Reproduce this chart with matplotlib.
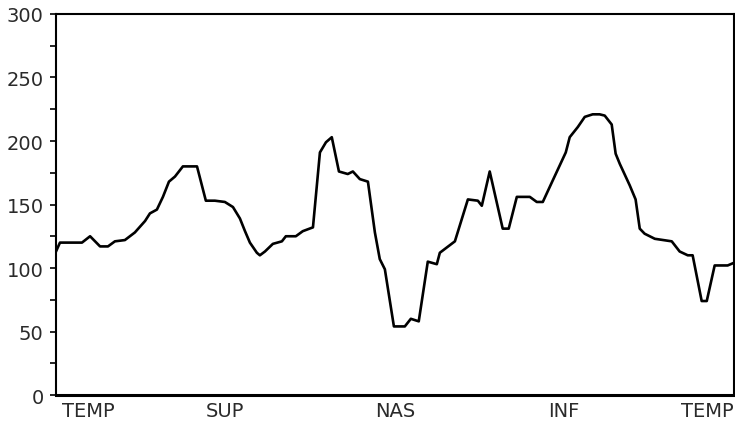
import matplotlib
matplotlib.use("Agg")
import matplotlib.pyplot as plt
from matplotlib.ticker import MultipleLocator

# scan position (degrees around the disc) and thickness values
angle = [0, 2.1, 13.8, 18.1, 23.4, 27.6, 31.3, 36.6, 41.9, 47.3, 49.9, 53.6, 56.8,
         60.0, 63.2, 67.4, 74.9, 79.6, 84.4, 89.7, 94.0, 97.7, 100.4, 103.0, 106.7,
         108.3, 111.0, 115.2, 120.0, 122.1, 127.4, 131.1, 136.5, 140.2, 143.4, 146.5,
         150.3, 155.0, 157.7, 161.4, 165.7, 169.4, 172.0, 174.7, 179.5, 185.3, 188.5,
         192.7, 197.5, 202.3, 203.9, 211.9, 218.8, 224.1, 226.2, 230.4, 237.3, 240.5,
         244.8, 251.7, 255.4, 258.6, 263.9, 270.8, 272.9, 277.2, 280.9, 285.1, 288.8,
         291.5, 295.2, 297.3, 299.5, 304.8, 307.9, 310.1, 312.7, 318.1, 327.1, 331.3,
         335.6, 338.2, 343.0, 345.7, 349.9, 356.8, 360]
thickness = [113, 120, 120, 125, 117, 117, 121, 122, 128, 137, 143, 146, 156,
             168, 172, 180, 180, 153, 153, 152, 148, 139, 129, 120, 112,
             110, 113, 119, 121, 125, 125, 129, 132, 191, 199, 203,
             176, 174, 176, 170, 168, 128, 107, 99, 54, 54, 60,
             58, 105, 103, 112, 121, 154, 153, 149, 176, 131, 131,
             156, 156, 152, 152, 169, 191, 203, 211, 219, 221, 221,
             220, 213, 190, 182, 165, 154, 131, 127, 123, 121, 113,
             110, 110, 74, 74, 102, 102, 104]

sector_pos = [0, 90, 180, 270, 360]
sector_labels = ["TEMP", "SUP", "NAS", "INF", "TEMP"]

fig = plt.figure(figsize=(7.35, 4.31), dpi=100)
ax = fig.add_axes([0.0762, 0.0812, 0.922, 0.884])

ax.plot(angle, thickness, color="black", lw=1.9, solid_joinstyle="round")

ax.set_xlim(0, 360)
ax.set_ylim(0, 300)
ax.yaxis.set_major_locator(MultipleLocator(50))
ax.yaxis.set_minor_locator(MultipleLocator(25))
ax.tick_params(axis="y", which="both", direction="out", length=4, width=1.2,
               labelsize=14, pad=5, labelcolor="#2a2a2a")
ax.tick_params(axis="x", length=0, labelbottom=False)
for s in ax.spines.values():
    s.set_linewidth(1.5)
ax.spines["bottom"].set_linewidth(2.2)

for p, lab in zip(sector_pos, sector_labels):
    ha = "center"
    if p == sector_pos[0]:
        ha = "left"
    elif p == sector_pos[-1]:
        ha = "right"
    ax.text(p + (3 if ha == "left" else 0), -5, lab, ha=ha, va="top",
            fontsize=14, color="#2a2a2a")

fig.savefig("out.png", dpi=100)
